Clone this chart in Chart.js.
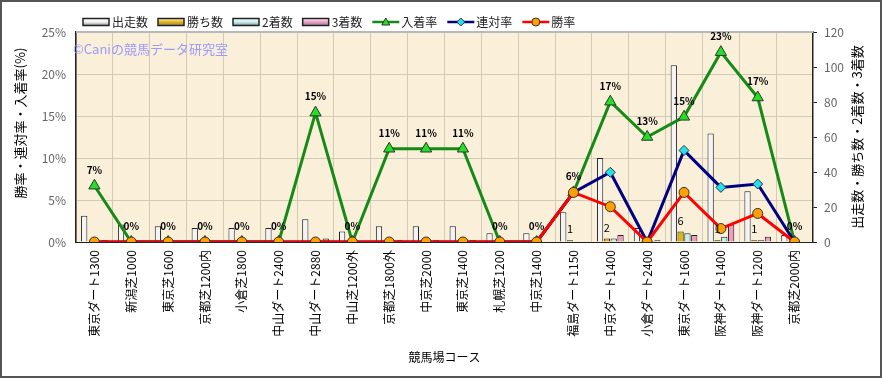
<!DOCTYPE html>
<html>
<head>
<meta charset="utf-8">
<script src="https://cdn.jsdelivr.net/npm/chart.js@4/dist/chart.umd.min.js"></script>
<style>
    body { margin: 0; background: #fff; }
    #wrap { position: relative; width: 882px; height: 378px; }
</style>
</head>
<body>
<div id="wrap"><canvas id="courseChart" width="882" height="378"></canvas></div>
<script>
const courses = ['東京ダート1300', '新潟芝1000', '東京芝1600', '京都芝1200内', '小倉芝1800', '中山ダート2400', '中山ダート2880', '中山芝1200外', '京都芝1800外', '中京芝2000', '東京芝1400', '札幌芝1200', '中京芝1400', '福島ダート1150', '中京ダート1400', '小倉ダート2400', '東京ダート1600', '阪神ダート1400', '阪神ダート1200', '京都芝2000内'];
const starts  = [15, 10, 9, 8, 8, 8, 13, 6, 9, 9, 9, 5, 5, 17, 48, 8, 101, 62, 29, 4];
const wins    = [0, 0, 0, 0, 0, 0, 0, 0, 0, 0, 0, 0, 0, 1, 2, 0, 6, 1, 1, 0];
const seconds = [0, 0, 0, 0, 0, 0, 0, 0, 0, 0, 0, 0, 0, 0, 2, 0, 5, 3, 1, 0];
const thirds  = [1, 0, 0, 0, 0, 0, 2, 0, 1, 1, 1, 0, 0, 0, 4, 1, 4, 10, 3, 0];
const placeRate    = [6.7, 0, 0, 0, 0, 0, 15.4, 0, 11.1, 11.1, 11.1, 0, 0, 5.9, 16.7, 12.5, 14.9, 22.6, 17.2, 0];
const quinellaRate = [0, 0, 0, 0, 0, 0, 0, 0, 0, 0, 0, 0, 0, 5.9, 8.3, 0, 10.9, 6.5, 6.9, 0];
const winRate      = [0, 0, 0, 0, 0, 0, 0, 0, 0, 0, 0, 0, 0, 5.9, 4.2, 0, 5.9, 1.6, 3.4, 0];
const rateTicks  = [0, 5, 10, 15, 20, 25];
const countTicks = [0, 20, 40, 60, 80, 100, 120];

const FONT = '"Noto Sans CJK JP", "Noto Sans", sans-serif';

// legend entries drawn by hand (line + marker for rates)
const legendItems = [
    { text: '出走数', kind: 'bar', fill: '#f2f2f2' },
    { text: '勝ち数', kind: 'bar', fill: '#e8b400' },
    { text: '2着数', kind: 'bar', fill: '#c4f0f0' },
    { text: '3着数', kind: 'bar', fill: '#f09ac4' },
    { text: '入着率', kind: 'line', line: '#168a16', marker: 'triangle', fill: '#22e022' },
    { text: '連対率', kind: 'line', line: '#000080', marker: 'diamond', fill: '#22e0f0' },
    { text: '勝率', kind: 'line', line: '#ff0000', marker: 'circle', fill: '#ff9f00' }
];

function drawMarker(ctx, type, x, y, r, fill, stroke) {
    ctx.beginPath();
    if (type === 'triangle') {
        ctx.moveTo(x, y - r);
        ctx.lineTo(x + r, y + r * 0.75);
        ctx.lineTo(x - r, y + r * 0.75);
        ctx.closePath();
    } else if (type === 'diamond') {
        ctx.moveTo(x, y - r);
        ctx.lineTo(x + r, y);
        ctx.lineTo(x, y + r);
        ctx.lineTo(x - r, y);
        ctx.closePath();
    } else {
        ctx.arc(x, y, r, 0, Math.PI * 2);
    }
    ctx.fillStyle = fill;
    ctx.fill();
    ctx.lineWidth = 1;
    ctx.strokeStyle = stroke;
    ctx.stroke();
}

const decorPlugin = {
    id: 'decor',
    beforeDraw(chart) {
        const { ctx, chartArea: a } = chart;
        ctx.save();
        ctx.fillStyle = '#faefd9';
        ctx.fillRect(a.left, a.top, a.right - a.left, a.bottom - a.top);
        ctx.restore();
    },
    beforeDatasetsDraw(chart) {
        const { ctx, chartArea: a } = chart;
        ctx.save();
        ctx.strokeStyle = '#b8b8b8';
        ctx.lineWidth = 2;
        ctx.beginPath();
        ctx.moveTo(a.left, a.top);
        ctx.lineTo(a.right, a.top);
        ctx.stroke();
        ctx.font = '13px ' + FONT;
        ctx.fillStyle = '#9a9aff';
        ctx.textBaseline = 'middle';
        ctx.fillText('©Caniの競馬データ研究室', 73, 49);
        ctx.restore();
    },
    afterDatasetsDraw(chart) {
        const { ctx } = chart;
        ctx.save();
        ctx.textAlign = 'center';
        ctx.textBaseline = 'middle';
        // 入着率 labels
        const placeMeta = chart.getDatasetMeta(4);
        ctx.font = 'bold 10px ' + FONT;
        ctx.fillStyle = '#000';
        placeMeta.data.forEach((pt, i) => {
            ctx.fillText(Math.round(placeRate[i]) + '%', pt.x, pt.y - 16);
        });
        // 勝ち数 labels
        const winMeta = chart.getDatasetMeta(1);
        ctx.font = '11px ' + FONT;
        winMeta.data.forEach((bar, i) => {
            if (wins[i] > 0) ctx.fillText(String(wins[i]), bar.x, bar.y - 11);
        });
        ctx.restore();
    },
    afterDraw(chart) {
        const { ctx, chartArea: a, width, height } = chart;
        ctx.save();
        // legend
        ctx.font = '12px ' + FONT;
        ctx.textBaseline = 'middle';
        let x = 83;
        const y = 22;
        legendItems.forEach(item => {
            if (item.kind === 'bar') {
                const g = ctx.createLinearGradient(0, y - 4, 0, y + 4);
                g.addColorStop(0, '#ffffff');
                g.addColorStop(0.5, item.fill);
                g.addColorStop(1, '#888888');
                ctx.fillStyle = g;
                ctx.fillRect(x, y - 3.5, 26, 7);
                ctx.strokeStyle = '#222';
                ctx.lineWidth = 1.5;
                ctx.strokeRect(x, y - 3.5, 26, 7);
            } else {
                ctx.strokeStyle = item.line;
                ctx.lineWidth = 2.5;
                ctx.beginPath();
                ctx.moveTo(x, y);
                ctx.lineTo(x + 27, y);
                ctx.stroke();
                drawMarker(ctx, item.marker, x + 13.5, y, 4, item.fill, '#333');
            }
            ctx.fillStyle = '#222';
            ctx.textAlign = 'left';
            ctx.fillText(item.text, x + 29, y);
            x += 29 + ctx.measureText(item.text).width + 10;
        });
        // axis titles
        ctx.font = '12px ' + FONT;
        ctx.fillStyle = '#000';
        ctx.textAlign = 'center';
        ctx.fillText('競馬場コース', (a.left + a.right) / 2, 357);
        ctx.font = '13px ' + FONT;
        ctx.save();
        ctx.translate(20, 123);
        ctx.rotate(-Math.PI / 2);
        ctx.fillText('勝率・連対率・入着率(%)', 0, 0);
        ctx.restore();
        ctx.save();
        ctx.translate(857, (a.top + a.bottom) / 2);
        ctx.rotate(-Math.PI / 2);
        ctx.fillText('出走数・勝ち数・2着数・3着数', 0, 0);
        ctx.restore();
        // outer frame
        ctx.strokeStyle = '#555';
        ctx.lineWidth = 2;
        ctx.strokeRect(1, 1, width - 2, height - 2);
        ctx.restore();
    }
};

function lineSet(label, data, line, marker, fill, order) {
    return {
        type: 'line', label, data, yAxisID: 'yRate', order,
        borderColor: line, borderWidth: 3, tension: 0,
        pointStyle: marker, pointRadius: marker === 'triangle' ? 6.5 : 5,
        pointBackgroundColor: fill, pointBorderColor: '#333', pointBorderWidth: 1
    };
}

function barSet(label, data, fill) {
    return {
        type: 'bar', label, data, yAxisID: 'yCount', order: 10,
        backgroundColor: fill, borderColor: '#222', borderWidth: 1,
        categoryPercentage: 0.74, barPercentage: 0.92
    };
}

const gridDash = { color: '#d2cab8', borderDash: [2, 2] };

new Chart(document.getElementById('courseChart'), {
    data: {
        labels: courses,
        datasets: [
            barSet('出走数', starts, '#f4f4f4'),
            barSet('勝ち数', wins, '#e8b400'),
            barSet('2着数', seconds, '#c4f0f0'),
            barSet('3着数', thirds, '#f09ac4'),
            lineSet('入着率', placeRate, '#168a16', 'triangle', '#22e022', 3),
            lineSet('連対率', quinellaRate, '#000080', 'rectRot', '#22e0f0', 2),
            lineSet('勝率', winRate, '#ff0000', 'circle', '#ff9f00', 1)
        ]
    },
    options: {
        responsive: false,
        animation: false,
        layout: { padding: { top: 32, left: 0, right: 0, bottom: 0 } },
        plugins: { legend: { display: false }, tooltip: { enabled: false } },
        scales: {
            x: {
                grid: { ...gridDash, offset: true, drawTicks: false },
                border: { color: '#222', width: 1 },
                ticks: {
                    autoSkip: false, minRotation: 90, maxRotation: 90, padding: 8,
                    color: '#000', font: { size: 12, family: FONT }
                },
                afterFit(scale) { scale.height = 136; }
            },
            yRate: {
                position: 'left', min: 0, max: 25,
                afterBuildTicks(scale) { scale.ticks = rateTicks.map(v => ({ value: v })); },
                grid: { ...gridDash, drawTicks: false },
                border: { color: '#222', width: 1.5 },
                ticks: {
                    padding: 10, color: '#666', font: { size: 12, family: FONT },
                    callback: v => v + '%'
                },
                afterFit(scale) { scale.width = 76; }
            },
            yCount: {
                position: 'right', min: 0, max: 120,
                afterBuildTicks(scale) { scale.ticks = countTicks.map(v => ({ value: v })); },
                grid: { drawOnChartArea: false, color: '#222', tickLength: 4 },
                border: { color: '#222', width: 1.5 },
                ticks: { padding: 7, color: '#666', font: { size: 12, family: FONT } },
                afterFit(scale) { scale.width = 69; }
            }
        }
    },
    plugins: [decorPlugin]
});
</script>
</body>
</html>
